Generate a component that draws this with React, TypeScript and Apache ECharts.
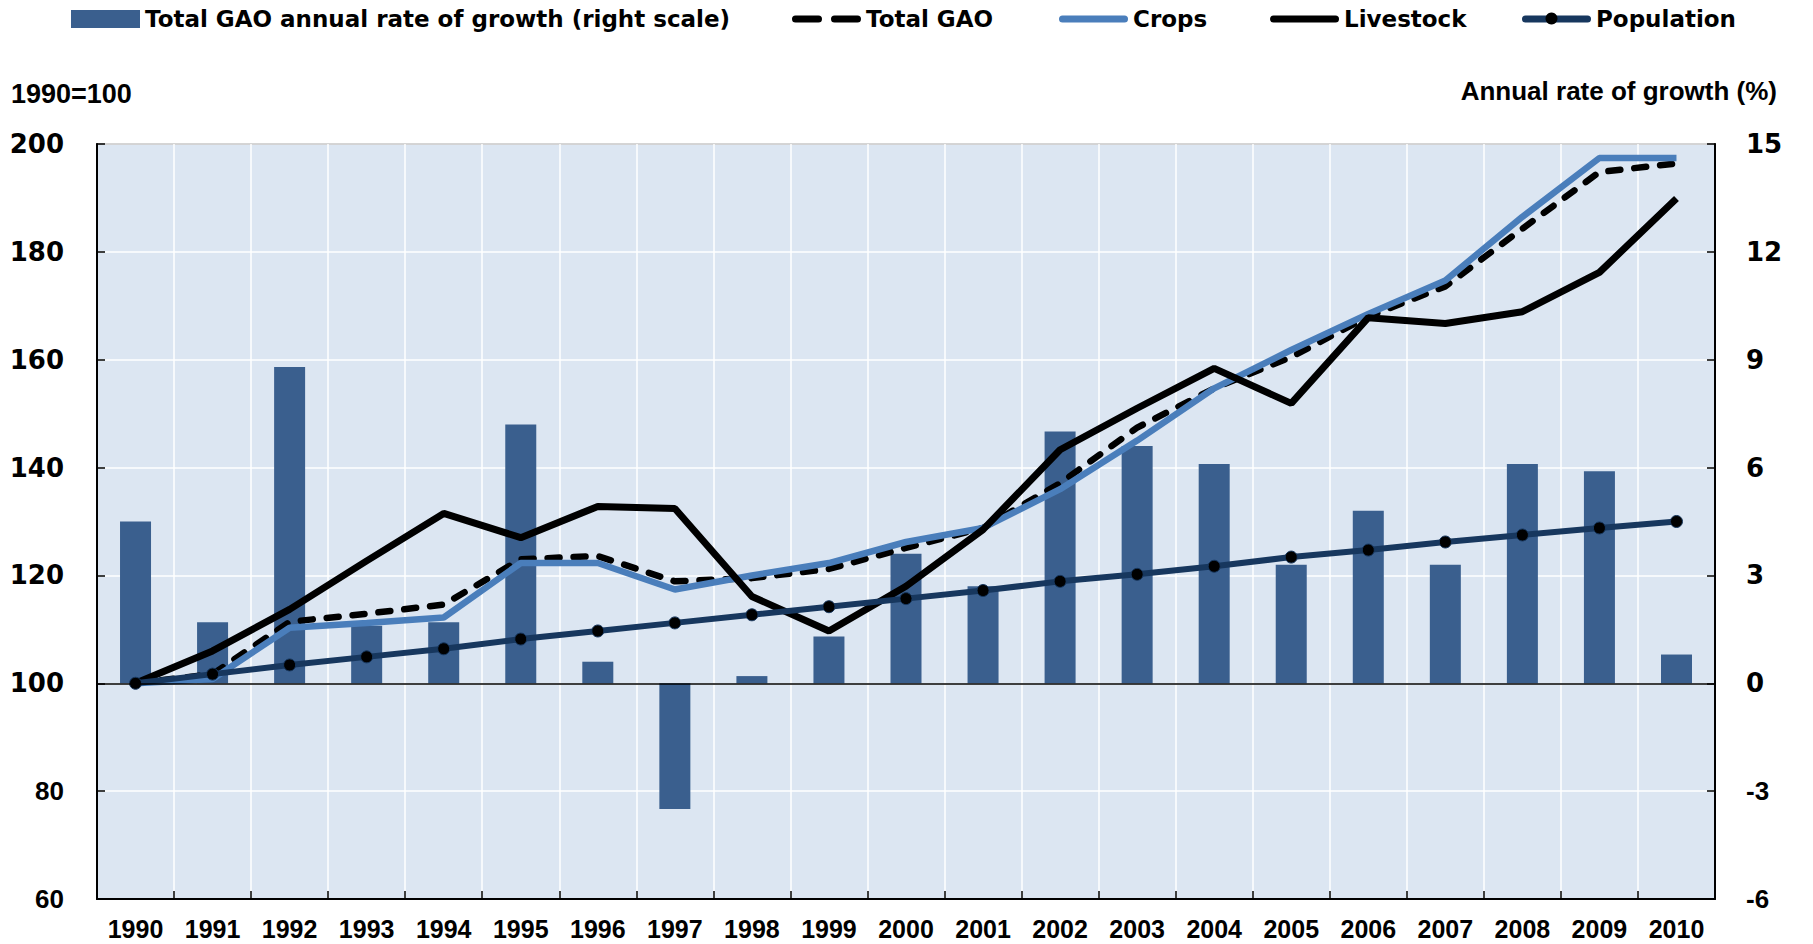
import React, { useEffect, useRef } from "react";
import * as echarts from "echarts";

const years = ["1990","1991","1992","1993","1994","1995","1996","1997","1998","1999","2000","2001","2002","2003","2004","2005","2006","2007","2008","2009","2010"];
const growthRate = [4.5, 1.7, 8.8, 1.6, 1.7, 7.2, 0.6, -3.5, 0.2, 1.3, 3.6, 2.7, 7.0, 6.6, 6.1, 3.3, 4.8, 3.3, 6.1, 5.9, 0.8];
const totalGao = [100, 101.7, 111.4, 112.9, 114.6, 123.0, 123.6, 118.9, 119.5, 121.2, 125.1, 128.8, 137.1, 147.4, 154.7, 160.5, 168.0, 173.6, 184.3, 194.8, 196.4];
const crops = [100, 100.8, 110.3, 111.2, 112.2, 122.3, 122.3, 117.4, 120.0, 122.3, 126.2, 128.8, 136.0, 145.0, 154.7, 161.8, 168.5, 174.7, 186.5, 197.4, 197.4];
const livestock = [100, 106.0, 113.7, 122.7, 131.5, 127.0, 132.8, 132.4, 116.1, 109.7, 118.0, 128.5, 143.3, 151.0, 158.4, 151.9, 167.8, 166.7, 168.9, 176.2, 189.9];
const population = [100, 101.7, 103.4, 104.9, 106.4, 108.2, 109.7, 111.2, 112.7, 114.2, 115.7, 117.2, 118.9, 120.2, 121.7, 123.4, 124.7, 126.2, 127.5, 128.8, 130.0];

const seriesNames = [
  "Total GAO annual rate of growth (right scale)",
  "Total GAO",
  "Crops",
  "Livestock",
  "Population",
];
const leftTitle = "1990=100";
const rightTitle = "Annual rate of growth (%)";

const FONT = "'Liberation Sans', Arial, sans-serif";
const WIDE = "'DejaVu Sans', Verdana, sans-serif";

const BAR_COLOR = "#3A5F8E";
const CROPS_COLOR = "#4A7EBB";
const POP_COLOR = "#17375E";

const ROUND_BAR = "path://M3.5,0 H65.5 A3.5,3.5 0 0 1 65.5,7 H3.5 A3.5,3.5 0 0 1 3.5,0 Z";
const TWO_DASH =
  "path://M3.5,0 H26.5 A3.5,3.5 0 0 1 26.5,7 H3.5 A3.5,3.5 0 0 1 3.5,0 Z M42.5,0 H65.5 A3.5,3.5 0 0 1 65.5,7 H42.5 A3.5,3.5 0 0 1 42.5,0 Z";

export default function App() {
  const ref = useRef<HTMLDivElement>(null);
  useEffect(() => {
    document.body.style.margin = "0";
    const chart = echarts.init(ref.current!, undefined, { renderer: "svg" });
    const labelRich = {
      w: { fontFamily: WIDE, fontWeight: "bold", fontSize: 26, color: "#000" },
      n: { fontFamily: FONT, fontWeight: "bold", fontSize: 26, color: "#000" },
    };
    const legendText = { fontFamily: WIDE, fontWeight: "bold", fontSize: 23, color: "#000" };
    const legendLefts = [66, 787, 1054, 1265, 1517];
    const legendIcons = ["rect", TWO_DASH, ROUND_BAR, ROUND_BAR, ROUND_BAR];
    const legendColors = [BAR_COLOR, "#000", CROPS_COLOR, "#000", POP_COLOR];
    const legends = seriesNames.map((name, i) => ({
      top: 2.5,
      left: legendLefts[i],
      itemWidth: 69,
      itemHeight: i === 0 ? 18 : 7,
      itemGap: 0,
      icon: legendIcons[i],
      itemStyle: { color: legendColors[i], borderWidth: 0 },
      textStyle: legendText,
      data: [name],
      selectedMode: false,
    }));
    chart.setOption({
      animation: false,
      backgroundColor: "#fff",
      legend: legends,
      graphic: [
        {
          type: "circle",
          shape: { cx: 1517 + 34.5, cy: 18.5, r: 6 },
          style: { fill: "#000" },
          z: 100,
        },
        {
          type: "text",
          left: 11,
          top: 80,
          style: { text: leftTitle, fontFamily: FONT, fontWeight: "bold", fontSize: 27, fill: "#000" },
        },
        {
          type: "text",
          right: 36,
          top: 78,
          style: { text: rightTitle, fontFamily: FONT, fontWeight: "bold", fontSize: 26, fill: "#000" },
        },
      ],
      grid: {
        left: 97,
        right: 98,
        top: 144,
        bottom: 45,
        show: true,
        backgroundColor: "#DCE6F2",
        borderColor: "#222",
        borderWidth: 1.5,
      },
      xAxis: {
        type: "category",
        data: years,
        boundaryGap: true,
        axisLine: { show: true, onZero: false, lineStyle: { color: "#000", width: 2 } },
        axisTick: { show: true, inside: true, length: 8, lineStyle: { color: "#000", width: 1.5 } },
        splitLine: { show: true, lineStyle: { color: "#fff", width: 1.5 } },
        axisLabel: {
          fontFamily: FONT,
          fontWeight: "bold",
          fontSize: 25,
          lineHeight: 25,
          color: "#000",
          margin: 17,
        },
      },
      yAxis: [
        {
          type: "value",
          min: 60,
          max: 200,
          interval: 20,
          axisLine: { show: true, lineStyle: { color: "#000", width: 2 } },
          axisTick: { show: true, inside: true, length: 8, lineStyle: { color: "#000", width: 1.5 } },
          splitLine: { show: true, lineStyle: { color: "#fff", width: 1.5 } },
          axisLabel: {
            margin: 33,
            formatter: (v: number) => (v >= 100 ? `{w|${v}}` : `{n|${v}}`),
            rich: labelRich,
          },
        },
        {
          type: "value",
          position: "right",
          min: -6,
          max: 15,
          interval: 3,
          axisLine: { show: true, lineStyle: { color: "#000", width: 2 } },
          axisTick: { show: true, inside: true, length: 8, lineStyle: { color: "#000", width: 1.5 } },
          splitLine: { show: false },
          axisLabel: {
            margin: 31,
            formatter: (v: number) => (v >= 0 ? `{w|${v}}` : `{n|${v}}`),
            rich: labelRich,
          },
        },
      ],
      series: [
        {
          name: seriesNames[0],
          type: "bar",
          yAxisIndex: 1,
          data: growthRate,
          barWidth: 31,
          itemStyle: { color: BAR_COLOR },
          markLine: {
            silent: true,
            symbol: "none",
            label: { show: false },
            lineStyle: { color: "#000", width: 1.5, type: "solid" },
            data: [{ yAxis: 0 }],
          },
        },
        {
          name: seriesNames[1],
          type: "line",
          data: totalGao,
          symbol: "none",
          itemStyle: { color: "#000" },
          lineStyle: { color: "#000", width: 6.5, type: [12, 14], cap: "round" },
        },
        {
          name: seriesNames[2],
          type: "line",
          data: crops,
          symbol: "none",
          itemStyle: { color: CROPS_COLOR },
          lineStyle: { color: CROPS_COLOR, width: 6.5 },
        },
        {
          name: seriesNames[3],
          type: "line",
          data: livestock,
          symbol: "none",
          itemStyle: { color: "#000" },
          lineStyle: { color: "#000", width: 7 },
        },
        {
          name: seriesNames[4],
          type: "line",
          data: population,
          symbol: "circle",
          symbolSize: 12,
          itemStyle: { color: "#000", borderColor: POP_COLOR, borderWidth: 1 },
          lineStyle: { color: POP_COLOR, width: 6 },
        },
      ],
    });
    return () => chart.dispose();
  }, []);
  return <div ref={ref} style={{ width: 1813, height: 944 }} />;
}
